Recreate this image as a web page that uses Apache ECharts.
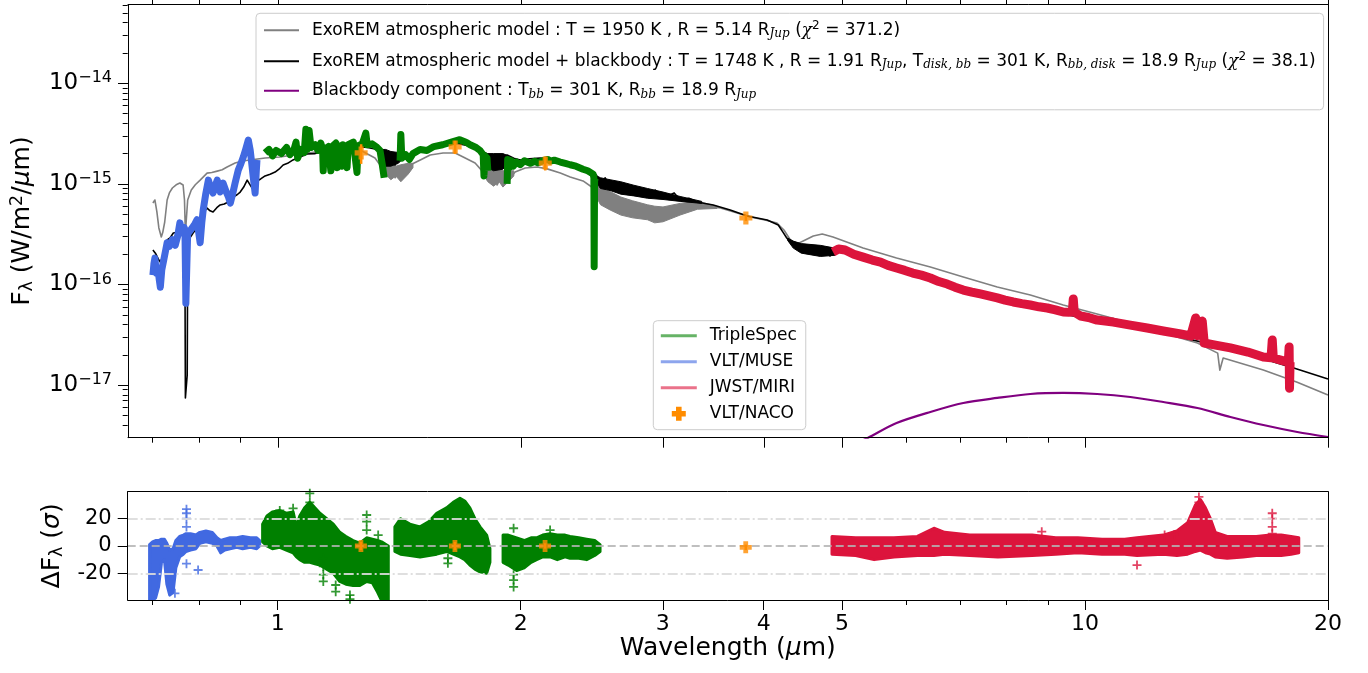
<!DOCTYPE html>
<html>
<head>
<meta charset="utf-8">
<title>SED fit with ExoREM models</title>
<script src="https://cdn.jsdelivr.net/npm/echarts@6.0.0/dist/echarts.min.js"></script>
<style>
  html, body { margin: 0; padding: 0; background: #fff; }
  #chart { width: 1368px; height: 673px; }
</style>
</head>
<body>
<div id="chart"></div>
<script>
// ---- axis ranges and ticks ----
const X_MIN = 0.652, X_MAX = 20;
const Y_MIN = 3.0e-18, Y_MAX = 6.07e-14;
const RES_MIN = -39.6, RES_MAX = 39.8;
const X_TICKS = [1, 2, 3, 4, 5, 10, 20];
const X_MINOR = [0.7, 0.8, 0.9, 6, 7, 8, 9];
const Y_DECADES = [-17, -16, -15, -14];
const Y_MINOR_DECADES = [-18, -17, -16, -15, -14];
const Y_MINOR_MULT = [2, 3, 4, 5, 6, 7, 8, 9];
const RES_TICKS = [-20, 0, 20];
const RES_LINES = [0, 20, -20];

// ---- spectra: [wavelength (um), flux (W/m2/um)] ----
const MODEL_ATM = [
  [0.700, 6.45e-16], [0.704, 6.92e-16], [0.708, 5.26e-16], [0.712, 3.65e-16], [0.717, 2.97e-16], [0.720, 3.3e-16],
  [0.724, 4.18e-16], [0.729, 6.92e-16], [0.734, 8.2e-16], [0.740, 9.1e-16], [0.748, 9.8e-16], [0.756, 1.02e-15],
  [0.763, 9.75e-16], [0.766, 6.92e-16], [0.768, 3.25e-16], [0.771, 3.25e-16], [0.773, 6.92e-16], [0.781, 8.69e-16],
  [0.790, 9.8e-16], [0.801, 1.09e-15], [0.817, 1.28e-15], [0.828, 1.3e-15], [0.841, 1.34e-15], [0.853, 1.38e-15],
  [0.865, 1.47e-15], [0.885, 1.61e-15], [0.903, 1.69e-15], [0.924, 1.73e-15], [0.964, 1.81e-15], [1.006, 1.85e-15],
  [1.065, 1.98e-15], [1.161, 2.17e-15], [1.264, 2.17e-15], [1.319, 1.81e-15], [1.358, 1.31e-15], [1.377, 1.54e-15],
  [1.397, 1.15e-15], [1.417, 1.44e-15], [1.437, 1.23e-15], [1.458, 1.54e-15], [1.501, 1.73e-15], [1.544, 1.94e-15],
  [1.602, 2.03e-15], [1.658, 2.03e-15], [1.706, 1.81e-15], [1.755, 1.61e-15], [1.796, 1.31e-15], [1.822, 1.09e-15],
  [1.843, 1.37e-15], [1.869, 9.75e-16], [1.896, 1.23e-15], [1.923, 1.04e-15], [1.967, 1.31e-15], [2.025, 1.44e-15],
  [2.095, 1.47e-15], [2.156, 1.41e-15], [2.238, 1.28e-15], [2.302, 1.17e-15], [2.388, 1.07e-15], [2.458, 9.1e-16],
  [2.508, 7.76e-16], [2.544, 6.17e-16], [2.580, 7.58e-16], [2.617, 5.5e-16], [2.656, 6.61e-16], [2.693, 5.14e-16],
  [2.748, 6.03e-16], [2.812, 4.91e-16], [2.868, 5.62e-16], [2.934, 4.48e-16], [3.001, 5.14e-16], [3.062, 4.69e-16],
  [3.152, 5.5e-16], [3.306, 6.17e-16], [3.534, 5.75e-16], [3.707, 5.14e-16], [3.848, 4.69e-16], [4.013, 4.38e-16],
  [4.152, 4.08e-16], [4.236, 3.48e-16], [4.315, 2.77e-16], [4.397, 2.53e-16], [4.501, 2.77e-16], [4.606, 3.03e-16],
  [4.725, 3.18e-16], [4.872, 2.97e-16], [5.309, 2.31e-16], [5.841, 1.83e-16], [6.432, 1.49e-16], [7.066, 1.19e-16],
  [7.785, 9.44e-17], [8.555, 7.86e-17], [9.397, 6.25e-17], [10.35, 5.09e-17], [11.38, 4.14e-17], [12.50, 3.29e-17],
  [13.78, 2.62e-17], [14.60, 2.08e-17], [14.69, 1.41e-17], [14.83, 1.86e-17], [16.63, 1.41e-17], [18.32, 1.07e-17],
  [20.0, 7.96e-18]
];
const MODEL_ATM_BB = [
  [0.700, 2.2e-16], [0.705, 2.05e-16], [0.708, 1.96e-16], [0.712, 1.75e-16], [0.715, 1.67e-16], [0.720, 1.9e-16],
  [0.724, 2.06e-16], [0.729, 2.77e-16], [0.735, 2.9e-16], [0.742, 3.25e-16], [0.750, 3.3e-16], [0.756, 3.48e-16],
  [0.762, 3.3e-16], [0.765, 3.1e-16], [0.767, 1.5e-16], [0.768, 7.45e-18], [0.771, 7.45e-18], [0.772, 1.26e-17],
  [0.773, 2.0e-16], [0.774, 2.77e-16], [0.780, 3.0e-16], [0.785, 3.25e-16], [0.793, 3.6e-16], [0.801, 4.18e-16],
  [0.809, 5.2e-16], [0.817, 5.75e-16], [0.824, 5.4e-16], [0.831, 5.26e-16], [0.840, 5.8e-16], [0.848, 6.17e-16],
  [0.858, 6.3e-16], [0.868, 6.6e-16], [0.880, 7.41e-16], [0.890, 7.8e-16], [0.898, 8.3e-16], [0.907, 9.3e-16],
  [0.916, 1.09e-15], [0.922, 1.0e-15], [0.929, 9.1e-16], [0.935, 1.0e-15], [0.942, 1.07e-15], [0.952, 1.12e-15],
  [0.964, 1.2e-15], [0.978, 1.25e-15], [0.992, 1.31e-15], [1.003, 1.4e-15], [1.015, 1.54e-15], [1.028, 1.6e-15],
  [1.044, 1.73e-15], [1.065, 1.85e-15], [1.087, 1.98e-15], [1.110, 2.0e-15], [1.128, 2.07e-15], [1.150, 2.12e-15],
  [1.177, 2.17e-15], [1.205, 2.22e-15], [1.229, 2.28e-15], [1.255, 2.3e-15], [1.282, 2.33e-15], [1.310, 2.25e-15],
  [1.339, 2.17e-15], [1.350, 1.85e-15], [1.358, 1.73e-15], [1.366, 2.0e-15], [1.377, 2.07e-15], [1.385, 1.7e-15],
  [1.397, 1.54e-15], [1.405, 1.9e-15], [1.417, 1.94e-15], [1.43, 1.8e-15], [1.46, 2.0e-15], [1.501, 2.17e-15],
  [1.55, 2.3e-15], [1.60, 2.45e-15], [1.635, 2.55e-15], [1.68, 2.5e-15], [1.72, 2.4e-15], [1.755, 2.28e-15],
  [1.79, 2.1e-15], [1.816, 1.94e-15], [1.830, 1.6e-15], [1.843, 1.44e-15], [1.855, 1.85e-15], [1.869, 1.94e-15],
  [1.882, 1.5e-15], [1.896, 1.54e-15], [1.910, 1.85e-15], [1.923, 1.94e-15], [1.96, 1.8e-15], [1.996, 1.73e-15],
  [2.05, 1.78e-15], [2.113, 1.81e-15], [2.175, 1.77e-15], [2.238, 1.73e-15], [2.30, 1.6e-15], [2.369, 1.37e-15],
  [2.42, 1.28e-15], [2.458, 1.17e-15], [2.48, 1.23e-15], [2.508, 9.75e-16], [2.544, 1.15e-15], [2.580, 8.7e-16],
  [2.617, 1.04e-15], [2.656, 8.3e-16], [2.709, 9.75e-16], [2.756, 7.76e-16], [2.812, 9.1e-16], [2.868, 7.41e-16],
  [2.934, 8.69e-16], [3.001, 7.24e-16], [3.097, 8.13e-16], [3.152, 6.92e-16], [3.23, 7.2e-16], [3.306, 6.61e-16],
  [3.462, 6.17e-16], [3.634, 5.5e-16], [3.815, 4.8e-16], [4.038, 4.38e-16], [4.168, 3.9e-16], [4.222, 3.33e-16],
  [4.270, 2.9e-16], [4.344, 2.47e-16], [4.441, 2.47e-16], [4.501, 2.1e-16], [4.592, 2.42e-16], [4.667, 1.96e-16],
  [4.750, 2.31e-16], [4.831, 1.92e-16], [4.893, 2.2e-16], [5.841, 1.39e-16], [7.066, 8.41e-17], [8.555, 5.97e-17],
  [10.35, 4.34e-17], [12.50, 3.29e-17], [15.14, 2.29e-17], [18.18, 1.47e-17], [20.0, 1.15e-17]
];
// noisy stretches of the two models: [wavelength, low flux, high flux]
const MODEL_ATM_NOISE = [
  [[1.345, 1.6e-15, 1.75e-15], [1.36, 1.25e-15, 1.7e-15], [1.38, 1.1e-15, 1.6e-15], [1.40, 1.2e-15, 1.5e-15],
   [1.42, 1.05e-15, 1.55e-15], [1.45, 1.25e-15, 1.6e-15], [1.47, 1.45e-15, 1.6e-15]],
  [[1.79, 1.3e-15, 1.5e-15], [1.82, 1.05e-15, 1.5e-15], [1.85, 9.5e-16, 1.45e-15], [1.88, 1.05e-15, 1.4e-15],
   [1.90, 9.3e-16, 1.35e-15], [1.93, 1.05e-15, 1.35e-15], [1.96, 1.2e-15, 1.35e-15]],
  [[2.46, 8.5e-16, 9.5e-16], [2.51, 6.2e-16, 9.1e-16], [2.58, 5.5e-16, 8.4e-16], [2.66, 4.9e-16, 7.4e-16],
   [2.75, 4.6e-16, 6.8e-16], [2.87, 4.4e-16, 6.2e-16], [2.93, 4.1e-16, 6.0e-16], [3.0, 4.2e-16, 5.9e-16],
   [3.15, 4.9e-16, 6.4e-16], [3.31, 5.6e-16, 6.7e-16], [3.5, 5.7e-16, 6.0e-16]]
];
const MODEL_ATM_BB_NOISE = [
  [[1.34, 2.0e-15, 2.2e-15], [1.36, 1.5e-15, 2.2e-15], [1.38, 1.5e-15, 2.1e-15], [1.41, 1.6e-15, 2.05e-15],
   [1.43, 1.8e-15, 1.95e-15]],
  [[1.79, 1.9e-15, 2.1e-15], [1.82, 1.45e-15, 2.0e-15], [1.85, 1.35e-15, 2.0e-15], [1.90, 1.4e-15, 2.0e-15],
   [1.93, 1.6e-15, 1.9e-15]],
  [[2.46, 1.1e-15, 1.25e-15], [2.51, 9.0e-16, 1.15e-15], [2.58, 8.6e-16, 1.1e-15], [2.66, 7.9e-16, 1.05e-15],
   [2.76, 7.6e-16, 9.7e-16], [2.87, 7.2e-16, 9.0e-16], [3.0, 7.0e-16, 8.3e-16], [3.15, 6.7e-16, 7.5e-16],
   [3.35, 6.4e-16, 6.7e-16]],
  [[4.28, 2.75e-16, 2.9e-16], [4.35, 2.3e-16, 2.7e-16], [4.45, 2.05e-16, 2.55e-16], [4.7, 1.9e-16, 2.45e-16],
   [4.9, 1.95e-16, 2.3e-16]]
];
const BLACKBODY = [
  [5.19, 2.6e-18], [5.385, 3.0e-18], [5.841, 4.2e-18], [6.432, 5.41e-18], [7.066, 6.64e-18], [7.785, 7.45e-18],
  [8.555, 8.16e-18], [9.397, 8.36e-18], [10.35, 8.16e-18], [11.38, 7.62e-18], [12.50, 6.79e-18], [13.78, 5.92e-18],
  [15.14, 4.82e-18], [16.63, 4.01e-18], [18.32, 3.42e-18], [20.0, 3.05e-18]
];
const TS_J = [
  [0.964, 2.03e-15], [0.975, 2.2e-15], [0.985, 1.9e-15], [0.995, 2.15e-15], [1.01, 2.0e-15], [1.025, 2.3e-15],
  [1.035, 1.95e-15], [1.047, 2.2e-15], [1.053, 2.6e-15], [1.058, 1.8e-15], [1.067, 2.2e-15], [1.078, 2.05e-15],
  [1.083, 3.5e-15], [1.087, 2.2e-15], [1.093, 3.4e-15], [1.099, 2.3e-15], [1.112, 2.45e-15], [1.121, 2.15e-15],
  [1.130, 2.55e-15], [1.136, 2.2e-15], [1.138, 1.35e-15], [1.141, 2.2e-15], [1.155, 2.35e-15], [1.163, 1.35e-15],
  [1.167, 2.35e-15], [1.180, 2.55e-15], [1.184, 1.45e-15], [1.188, 2.4e-15], [1.200, 1.5e-15], [1.204, 2.45e-15],
  [1.218, 1.45e-15], [1.222, 2.45e-15], [1.240, 2.6e-15], [1.253, 1.3e-15], [1.257, 2.4e-15], [1.272, 2.5e-15],
  [1.285, 3.2e-15], [1.290, 2.45e-15], [1.308, 2.5e-15], [1.323, 2.35e-15], [1.338, 2.15e-15], [1.346, 1.6e-15],
  [1.354, 1.15e-15]
];
const TS_H = [
  [1.417, 1.7e-15], [1.420, 3.1e-15], [1.424, 1.8e-15], [1.440, 1.95e-15], [1.455, 1.75e-15], [1.470, 2.0e-15],
  [1.50, 2.2e-15], [1.53, 2.15e-15], [1.56, 2.35e-15], [1.60, 2.45e-15], [1.64, 2.6e-15], [1.68, 2.75e-15],
  [1.71, 2.6e-15], [1.73, 2.45e-15], [1.76, 2.3e-15], [1.78, 2.15e-15], [1.796, 1.95e-15], [1.800, 1.2e-15],
  [1.805, 1.9e-15], [1.816, 1.8e-15], [1.82, 1.35e-15]
];
const TS_K = [
  [1.923, 1.0e-15], [1.926, 1.75e-15], [1.935, 1.45e-15], [1.945, 1.7e-15], [1.957, 1.5e-15], [1.975, 1.65e-15],
  [1.996, 1.55e-15], [2.02, 1.7e-15], [2.054, 1.6e-15], [2.08, 1.68e-15], [2.10, 1.62e-15], [2.13, 1.7e-15],
  [2.16, 1.75e-15], [2.175, 1.68e-15], [2.20, 1.72e-15], [2.238, 1.65e-15], [2.27, 1.6e-15], [2.302, 1.55e-15],
  [2.34, 1.5e-15], [2.388, 1.4e-15], [2.42, 1.35e-15], [2.458, 1.25e-15], [2.463, 1.15e-15], [2.465, 1.5e-16],
  [2.468, 1.1e-15], [2.478, 1.15e-15]
];
const MUSE = [
  [0.700, 1.24e-16], [0.702, 1.6e-16], [0.704, 1.83e-16], [0.707, 1.3e-16], [0.710, 1.45e-16], [0.713, 1.1e-16],
  [0.715, 9.4e-17], [0.718, 1.4e-16], [0.722, 1.75e-16], [0.726, 2.2e-16], [0.729, 2.6e-16], [0.734, 2.4e-16],
  [0.740, 2.8e-16], [0.746, 2.45e-16], [0.751, 3.0e-16], [0.756, 4.1e-16], [0.761, 3.25e-16], [0.765, 3.7e-16],
  [0.767, 3.5e-16], [0.769, 6.5e-17], [0.771, 6.5e-17], [0.773, 3.2e-16], [0.778, 3.4e-16], [0.783, 3.65e-16],
  [0.789, 4.0e-16], [0.794, 4.4e-16], [0.798, 3.2e-16], [0.801, 2.6e-16], [0.805, 4.2e-16], [0.808, 5.5e-16],
  [0.814, 8.0e-16], [0.820, 1.09e-15], [0.826, 9.0e-16], [0.831, 8.1e-16], [0.836, 9.5e-16], [0.841, 1.09e-15],
  [0.848, 8.3e-16], [0.855, 1.02e-15], [0.862, 8.5e-16], [0.868, 7.5e-16], [0.873, 6.45e-16], [0.879, 8.0e-16],
  [0.885, 1.02e-15], [0.893, 1.37e-15], [0.900, 1.6e-15], [0.906, 1.85e-15], [0.912, 2.2e-15], [0.919, 2.73e-15],
  [0.924, 2.17e-15], [0.928, 1.6e-15], [0.932, 1.17e-15], [0.937, 8.1e-16], [0.940, 1.3e-15], [0.942, 1.73e-15]
];
const MIRI = [
  [4.872, 2.1e-16], [4.95, 2.25e-16], [5.043, 2.2e-16], [5.17, 2.0e-16], [5.309, 1.87e-16], [5.45, 1.75e-16],
  [5.579, 1.67e-16], [5.70, 1.55e-16], [5.841, 1.46e-16], [5.98, 1.38e-16], [6.117, 1.3e-16], [6.27, 1.24e-16],
  [6.432, 1.16e-16], [6.59, 1.07e-16], [6.750, 1.01e-16], [6.90, 9.4e-17], [7.066, 8.81e-17], [7.24, 8.4e-17],
  [7.418, 8.05e-17], [7.60, 7.7e-17], [7.785, 7.35e-17], [7.96, 7.0e-17], [8.147, 6.7e-17], [8.35, 6.45e-17],
  [8.555, 6.25e-17], [8.77, 6.0e-17], [8.979, 5.84e-17], [9.19, 5.6e-17], [9.397, 5.33e-17], [9.55, 5.3e-17],
  [9.643, 5.33e-17], [9.670, 7.18e-17], [9.697, 5.33e-17], [9.874, 4.86e-17], [10.1, 4.7e-17], [10.35, 4.43e-17],
  [10.84, 4.23e-17], [11.38, 3.95e-17], [11.94, 3.69e-17], [12.50, 3.45e-17], [13.14, 3.22e-17], [13.52, 3.08e-17],
  [13.71, 4.65e-17], [13.78, 3.1e-17], [13.97, 4.34e-17], [14.05, 2.62e-17], [14.51, 2.5e-17], [15.14, 2.34e-17],
  [15.91, 2.13e-17], [16.63, 1.9e-17], [17.00, 1.87e-17], [17.06, 2.8e-17], [17.11, 1.86e-17], [17.48, 1.77e-17],
  [17.86, 1.69e-17], [17.90, 2.39e-17], [17.92, 9.3e-18], [17.95, 1.69e-17], [17.98, 1.69e-17]
];
const NACO_WL = [1.268, 1.658, 2.144, 3.80];
const NACO_FLUX = [2.03e-15, 2.33e-15, 1.61e-15, 4.58e-16];
const NACO_ERR = [4.5e-16, 3.5e-16, 2.5e-16, 3.0e-17];

// ---- residuals (sigma): bands [wavelength, low, high] and isolated points [wavelength, value] ----
const RES_MUSE = [
  [0.694, -40, 1], [0.700, -40, 3], [0.706, -38, 4], [0.712, -30, 4], [0.718, -12, 5], [0.724, -10, 5],
  [0.729, -28, 2], [0.735, -36, -3], [0.742, -34, -2], [0.748, -16, 4], [0.756, -8, 7], [0.764, -6, 8],
  [0.770, -4, 9], [0.780, -3, 9], [0.792, -2, 8], [0.801, 2, 10], [0.815, 3, 11], [0.830, 2, 10],
  [0.841, 0, 6], [0.850, -5, 4], [0.860, -3, 5], [0.873, -2, 6], [0.890, -1, 6], [0.905, -2, 7],
  [0.925, -1, 6], [0.942, -2, 6], [0.950, 0, 4]
];
const RES_MUSE_PTS = [[0.771, 27], [0.771, 24], [0.771, 20], [0.771, 14], [0.771, -13], [0.797, -17.6], [0.746, -34.7]];
const RES_TS_J = [
  [0.958, 3, 16], [0.970, 0, 22], [0.985, -2, 25], [1.006, -1, 26], [1.025, -3, 24], [1.045, -5, 25],
  [1.055, -8, 14], [1.065, -10, 22], [1.080, -12, 28], [1.096, -12, 32], [1.112, -13, 28], [1.128, -14, 24],
  [1.150, -17, 20], [1.172, -20, 16], [1.194, -26, 10], [1.215, -28, 7], [1.240, -29, 4], [1.264, -29, 2],
  [1.289, -26, 6], [1.310, -27, 5], [1.330, -34, 4], [1.345, -40, 3], [1.371, -40, 0]
];
const RES_TS_J_PTS = [
  [1.006, 26], [1.045, 27.6], [1.096, 38.6], [1.096, 32], [1.096, 29], [1.139, -9], [1.139, -15], [1.139, -21],
  [1.139, -26], [1.180, -28.6], [1.180, -33.5], [1.229, -36], [1.229, -39], [1.289, 22.7], [1.289, 17.8],
  [1.289, 11.7], [1.332, 8]
];
const RES_TS_H = [
  [1.397, -4, 14], [1.420, -6, 20], [1.458, -7, 16], [1.501, -8, 14], [1.540, -7, 18], [1.574, -6, 24],
  [1.619, -4, 28], [1.650, -6, 32], [1.682, -8, 35], [1.705, -10, 33], [1.730, -14, 28], [1.755, -17, 20],
  [1.781, -19, 14], [1.815, -20, 8], [1.832, -12, -2]
];
const RES_TS_H_PTS = [[1.625, -9], [1.625, -12.7]];
const RES_TS_K = [
  [1.902, -12, 8], [1.930, -14, 8], [1.977, -18, 6], [2.020, -16, 4], [2.060, -12, 6], [2.093, -10, 6],
  [2.130, -8, 8], [2.175, -8, 9], [2.220, -10, 8], [2.270, -8, 8], [2.302, -9, 7], [2.360, -9, 6],
  [2.414, -10, 5], [2.470, -7, 4], [2.508, -4, 1]
];
const RES_TS_K_PTS = [[1.96, 13], [1.96, -21], [1.96, -25], [1.96, -30], [2.175, 11.7]];
const RES_MIRI = [
  [4.86, -6, 7], [5.2, -7, 6], [5.48, -10, 6], [5.8, -8, 6], [6.2, -7, 7], [6.5, -7, 13], [6.7, -6, 10],
  [7.2, -7, 8], [7.8, -8, 8], [8.6, -7, 8], [9.2, -6, 6], [9.8, -5, 6], [10.5, -6, 5], [11.2, -6, 5],
  [11.6, -7, 6], [12.5, -6, 8], [13.0, -7, 11], [13.4, -6, 17], [13.7, -4, 30], [13.9, -3, 34], [14.1, -5, 28],
  [14.3, -6, 20], [14.5, -8, 10], [15.0, -9, 7], [15.7, -8, 7], [16.3, -7, 7], [16.97, -7, 8], [17.5, -7, 8],
  [18.0, -6, 7], [18.4, -5, 6]
];
const RES_MIRI_PTS = [
  [8.84, 10.5], [11.6, -14], [12.55, 8], [12.9, 8.5], [13.84, 36], [13.84, 32], [13.84, 28], [14.0, 25],
  [17.06, 24], [17.06, 20], [17.06, 14], [17.06, 9]
];
const NACO_RES = [0, 0, 0, -1];
const NACO_RES_ERR = [3, 3, 2, 2];

// ---- legend texts ----
const LEGEND_TEXT = {
  model: '{n|ExoREM atmospheric model : T = 1950 K , R = 5.14 R}{sub|Jup}{n| (}{it|χ}{sup|2}{n| = 371.2)}',
  modelbb: '{n|ExoREM atmospheric model + blackbody : T = 1748 K , R = 1.91 R}{sub|Jup}{n|, T}{sub|disk, bb}' +
    '{n| = 301 K, R}{sub|bb, disk}{n| = 18.9 R}{sub|Jup}{n| (}{it|χ}{sup|2}{n| = 38.1)}',
  bb: '{n|Blackbody component : T}{sub|bb}{n| = 301 K, R}{sub|bb}{n| = 18.9 R}{sub|Jup}'
};

const FONT = 'DejaVu Sans';
const lg = Math.log10;
const PLUS_BOLD = 'path://M3,0H7V3H10V7H7V10H3V7H0V3H3Z';
const PLUS_THIN = 'path://M4,0H6V4H10V6H6V10H4V6H0V4H4Z';
const AXIS_LINE = { show: true, onZero: false, lineStyle: { color: '#000', width: 1 } };

const TOP = { left: 127.7, top: 4.5, width: 1200.3, height: 433.2 };
const BOT = { left: 127.7, top: 491.7, width: 1200.3, height: 108.3 };

function ticks(values, length) {
  return { show: true, customValues: values, length, inside: false, lineStyle: { color: '#000', width: 1 } };
}

function xAxisCfg(gridIndex, position, opts) {
  return Object.assign({
    type: 'value', gridIndex, position, min: lg(X_MIN), max: lg(X_MAX), z: 10,
    splitLine: { show: false }, axisLine: { show: false, onZero: false },
    axisTick: { show: false }, axisLabel: { show: false }
  }, opts);
}

function yAxisCfg(gridIndex, position, min, max, opts) {
  return Object.assign({
    type: 'value', gridIndex, position, min, max, z: 10,
    splitLine: { show: false }, axisLine: { show: false, onZero: false },
    axisTick: { show: false }, axisLabel: { show: false }
  }, opts);
}

const yMinor = [];
Y_MINOR_DECADES.forEach(d => Y_MINOR_MULT.forEach(m => {
  const v = d + lg(m);
  if (v > lg(Y_MIN) && v < lg(Y_MAX)) yMinor.push(v);
}));

function specLine(name, data, color, width, z, extra) {
  return Object.assign({
    type: 'line', name, xAxisIndex: 0, yAxisIndex: 0, z, silent: true,
    symbol: 'none', showSymbol: false,
    data: data.map(p => [lg(p[0]), lg(p[1])]),
    lineStyle: { color, width, join: 'round' }, itemStyle: { color }
  }, extra || {});
}

// filled envelope between a low and a high curve, on any grid
function envelope(name, band, color, xIdx, yIdx, toY, z, stroke) {
  return {
    type: 'custom', name, xAxisIndex: xIdx, yAxisIndex: yIdx, clip: true, silent: true, z,
    data: [[lg(band[0][0]), toY(band[0][1])]],
    renderItem: (params, api) => {
      const upper = band.map(b => api.coord([lg(b[0]), toY(b[2])]));
      const lower = band.map(b => api.coord([lg(b[0]), toY(b[1])])).reverse();
      return {
        type: 'polygon', shape: { points: upper.concat(lower) },
        style: { fill: color, stroke: color, lineWidth: stroke, lineJoin: 'round' }
      };
    }
  };
}
const ident = v => v;

function resPoints(name, pts, color) {
  return {
    type: 'scatter', name, xAxisIndex: 4, yAxisIndex: 3, silent: true, z: 3,
    symbol: PLUS_THIN, symbolSize: 9, itemStyle: { color },
    data: pts.map(p => [lg(p[0]), p[1]])
  };
}

function errorBars(name, xIdx, yIdx, rows, z) {
  return {
    type: 'custom', name, xAxisIndex: xIdx, yAxisIndex: yIdx, silent: true, z,
    data: rows,
    renderItem: (params, api) => {
      const a = api.coord([api.value(0), api.value(1)]);
      const b = api.coord([api.value(0), api.value(2)]);
      return { type: 'line', shape: { x1: a[0], y1: a[1], x2: b[0], y2: b[1] },
        style: { stroke: '#ff8c00', lineWidth: 2.5 } };
    }
  };
}

const richLegend = {
  n: { fontFamily: FONT, fontSize: 17, color: '#000', lineHeight: 20 },
  it: { fontFamily: 'DejaVu Serif', fontStyle: 'italic', fontSize: 17, color: '#000', lineHeight: 20 },
  sub: { fontFamily: 'DejaVu Serif', fontStyle: 'italic', fontSize: 12, color: '#000', lineHeight: 8, verticalAlign: 'bottom' },
  sup: { fontFamily: FONT, fontSize: 12, color: '#000', lineHeight: 8, verticalAlign: 'top' }
};
const richName = {
  n: { fontFamily: FONT, fontSize: 25, color: '#000', lineHeight: 28 },
  it: { fontFamily: FONT, fontStyle: 'italic', fontSize: 25, color: '#000', lineHeight: 28 },
  sub: { fontFamily: FONT, fontSize: 17.5, color: '#000', lineHeight: 10, verticalAlign: 'bottom' },
  sup: { fontFamily: FONT, fontSize: 17.5, color: '#000', lineHeight: 10, verticalAlign: 'top' }
};

const series = [
  specLine('model', MODEL_ATM, '#808080', 1.6, 2),
  specLine('modelbb', MODEL_ATM_BB, '#000000', 1.6, 3),
  specLine('bb', BLACKBODY, '#800080', 2.2, 3, { smooth: 0.3 }),
  specLine('TripleSpec', TS_J, '#008000', 7, 4),
  specLine('TripleSpec', TS_H, '#008000', 7, 4),
  specLine('TripleSpec', TS_K, '#008000', 7, 4),
  specLine('VLT/MUSE', MUSE, '#4169e1', 7, 4),
  specLine('JWST/MIRI', MIRI, '#dc143c', 9, 4),
  errorBars('nacoErr', 0, 0, NACO_WL.map((w, i) => [lg(w), lg(NACO_FLUX[i] - NACO_ERR[i]), lg(NACO_FLUX[i] + NACO_ERR[i])]), 5),
  {
    type: 'scatter', name: 'VLT/NACO', xAxisIndex: 0, yAxisIndex: 0, silent: true, z: 6,
    symbol: PLUS_BOLD, symbolSize: 13, itemStyle: { color: '#ff8c00' },
    data: NACO_WL.map((w, i) => [lg(w), lg(NACO_FLUX[i])])
  }
];
MODEL_ATM_NOISE.forEach((b, i) => series.push(envelope('modelNoise' + i, b, '#808080', 0, 0, lg, 2, 1)));
MODEL_ATM_BB_NOISE.forEach((b, i) => series.push(envelope('modelbbNoise' + i, b, '#000000', 0, 0, lg, 3, 1)));
series.push(
  envelope('resMuse', RES_MUSE, '#4169e1', 4, 3, ident, 2, 3),
  envelope('resTsJ', RES_TS_J, '#008000', 4, 3, ident, 2, 3),
  envelope('resTsH', RES_TS_H, '#008000', 4, 3, ident, 2, 3),
  envelope('resTsK', RES_TS_K, '#008000', 4, 3, ident, 2, 3),
  envelope('resMiri', RES_MIRI, '#dc143c', 4, 3, ident, 2, 3),
  resPoints('resMusePts', RES_MUSE_PTS, '#4169e1'),
  resPoints('resTsPts', RES_TS_J_PTS.concat(RES_TS_H_PTS, RES_TS_K_PTS), '#008000'),
  resPoints('resMiriPts', RES_MIRI_PTS, '#dc143c'),
  errorBars('nacoResErr', 4, 3, NACO_WL.map((w, i) => [lg(w), NACO_RES[i] - NACO_RES_ERR[i], NACO_RES[i] + NACO_RES_ERR[i]]), 5),
  {
    type: 'scatter', name: 'nacoRes', xAxisIndex: 4, yAxisIndex: 3, silent: true, z: 6,
    symbol: PLUS_BOLD, symbolSize: 12, itemStyle: { color: '#ff8c00' },
    data: NACO_WL.map((w, i) => [lg(w), NACO_RES[i]])
  },
  {
    type: 'line', name: 'refLines', xAxisIndex: 4, yAxisIndex: 3, data: [], silent: true, z: 7,
    markLine: {
      silent: true, symbol: 'none', animation: false, label: { show: false },
      data: RES_LINES.map(v => ({
        yAxis: v,
        lineStyle: v === 0
          ? { color: '#b4b4b4', width: 2, type: [8, 4], opacity: 0.85 }
          : { color: '#dcdcdc', width: 2, type: [10, 3, 2, 3], opacity: 0.9 }
      }))
    }
  }
);

const option = {
  animation: false,
  backgroundColor: '#fff',
  grid: [
    Object.assign({}, TOP), Object.assign({}, TOP),
    Object.assign({}, BOT), Object.assign({}, BOT)
  ],
  xAxis: [
    xAxisCfg(0, 'bottom', { axisLine: AXIS_LINE, axisTick: ticks(X_TICKS.map(lg), 10) }),
    xAxisCfg(0, 'top', { axisLine: AXIS_LINE, axisTick: ticks(X_TICKS.map(lg), 10) }),
    xAxisCfg(1, 'bottom', { axisTick: ticks(X_MINOR.map(lg), 5) }),
    xAxisCfg(1, 'top', { axisTick: ticks(X_MINOR.map(lg), 5) }),
    xAxisCfg(2, 'bottom', {
      axisLine: AXIS_LINE, axisTick: ticks(X_TICKS.map(lg), 10),
      axisLabel: {
        show: true, customValues: X_TICKS.map(lg), margin: 13, fontFamily: FONT, fontSize: 22, color: '#000',
        formatter: v => String(Math.round(Math.pow(10, v)))
      },
      name: '{n|Wavelength (}{it|μ}{n|m)}', nameLocation: 'middle', nameGap: 33,
      nameTextStyle: { rich: richName }
    }),
    xAxisCfg(2, 'top', { axisLine: AXIS_LINE }),
    xAxisCfg(3, 'bottom', { axisTick: ticks(X_MINOR.map(lg), 5) })
  ],
  yAxis: [
    yAxisCfg(0, 'left', lg(Y_MIN), lg(Y_MAX), {
      axisLine: AXIS_LINE, axisTick: ticks(Y_DECADES, 10),
      axisLabel: {
        show: true, customValues: Y_DECADES, margin: 16,
        formatter: v => '{b|10}{s|−' + Math.abs(Math.round(v)) + '}',
        rich: {
          b: { fontFamily: FONT, fontSize: 23, color: '#000', lineHeight: 26 },
          s: { fontFamily: FONT, fontSize: 16, color: '#000', lineHeight: 12, verticalAlign: 'top' }
        }
      },
      name: '{n|F}{sub|λ}{n| (W/m}{sup|2}{n|/}{it|μ}{n|m)}', nameLocation: 'middle', nameGap: 92, nameRotate: 90,
      nameTextStyle: { rich: richName }
    }),
    yAxisCfg(1, 'left', lg(Y_MIN), lg(Y_MAX), { axisTick: ticks(yMinor, 5) }),
    yAxisCfg(1, 'right', lg(Y_MIN), lg(Y_MAX), { axisLine: AXIS_LINE }),
    yAxisCfg(2, 'left', RES_MIN, RES_MAX, {
      axisLine: AXIS_LINE, axisTick: ticks(RES_TICKS, 10),
      axisLabel: { show: true, customValues: RES_TICKS, margin: 16, fontFamily: FONT, fontSize: 21, color: '#000',
        formatter: v => String(v) },
      name: '{n|ΔF}{sub|λ}{n| (}{it|σ}{n|)}', nameLocation: 'middle', nameGap: 61, nameRotate: 90,
      nameTextStyle: { rich: richName }
    }),
    yAxisCfg(2, 'right', RES_MIN, RES_MAX, { axisLine: AXIS_LINE }),
    yAxisCfg(3, 'left', RES_MIN, RES_MAX, {})
  ],
  legend: [
    {
      data: ['model', 'modelbb', 'bb'],
      orient: 'vertical', left: 256, top: 13.3, padding: [7, 8, 9, 7],
      itemWidth: 35, itemHeight: 14, itemGap: 11, selectedMode: false,
      backgroundColor: 'rgba(255,255,255,0.8)', borderColor: '#cccccc', borderWidth: 1, borderRadius: 4,
      itemStyle: { opacity: 0 },
      formatter: name => LEGEND_TEXT[name],
      textStyle: { fontFamily: FONT, fontSize: 17, color: '#000', padding: [0, 0, 0, 8], rich: richLegend }
    },
    {
      data: [
        { name: 'TripleSpec', lineStyle: { width: 3, opacity: 0.6 } },
        { name: 'VLT/MUSE', lineStyle: { width: 3, opacity: 0.6 } },
        { name: 'JWST/MIRI', lineStyle: { width: 3, opacity: 0.6 } },
        { name: 'VLT/NACO', itemStyle: { opacity: 1 } }
      ],
      orient: 'vertical', left: 653.3, top: 320.7, padding: [6, 9, 7, 6],
      itemWidth: 36, itemHeight: 14, itemGap: 8, selectedMode: false,
      backgroundColor: 'rgba(255,255,255,0.8)', borderColor: '#cccccc', borderWidth: 1, borderRadius: 4,
      itemStyle: { opacity: 0 },
      textStyle: { fontFamily: FONT, fontSize: 17, color: '#000', lineHeight: 18, padding: [0, 0, 0, 8] }
    }
  ],
  series
};

const chart = echarts.init(document.getElementById('chart'));
chart.setOption(option);
</script>
</body>
</html>
